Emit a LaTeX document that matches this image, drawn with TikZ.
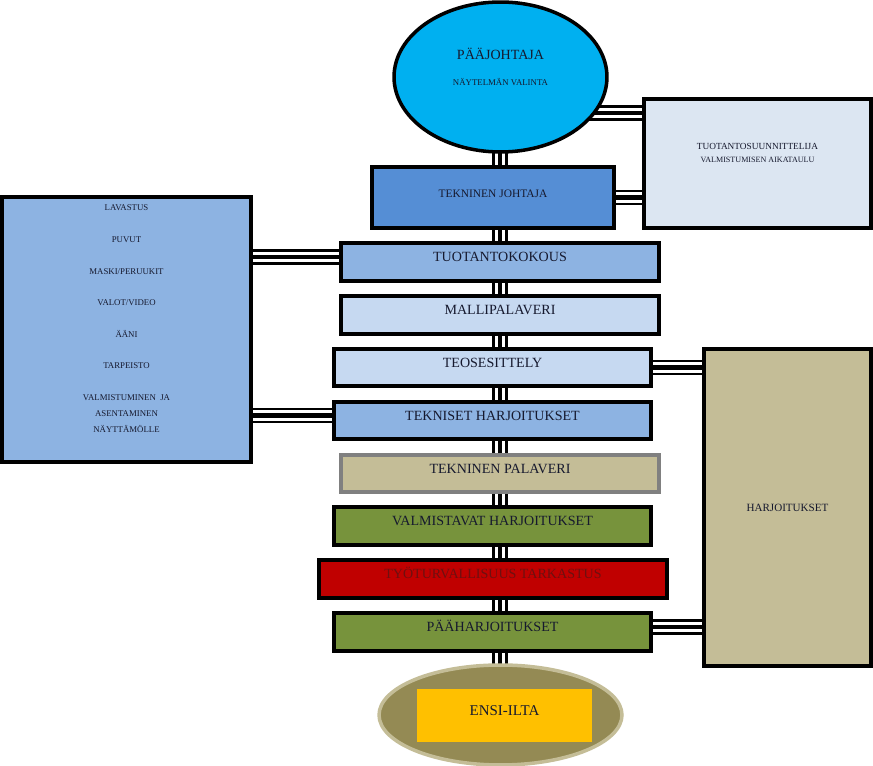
\documentclass[tikz,border=0pt]{standalone}
\usepackage{fontspec}
\setmainfont{Liberation Serif}
\usetikzlibrary{shapes.geometric,backgrounds,calc}
\definecolor{pjsini}{HTML}{00B0F0}
\definecolor{tjsini}{HTML}{558ED5}
\definecolor{vaaleasini}{HTML}{DCE6F2}
\definecolor{keskisini}{HTML}{8DB3E2}
\definecolor{haalea}{HTML}{C6D9F1}
\definecolor{hiekka}{HTML}{C4BD97}
\definecolor{oliivi}{HTML}{77933C}
\definecolor{puna}{HTML}{C00000}
\definecolor{punateksti}{HTML}{6E1010}
\definecolor{ruskea}{HTML}{948A54}
\definecolor{kulta}{HTML}{FFC000}
\definecolor{tumma}{HTML}{16192E}
\newcommand{\isot}{\fontsize{8}{9.6}\selectfont}
\newcommand{\pienet}{\fontsize{5}{9}\selectfont}

\begin{document}
\begin{tikzpicture}[x=0.02cm,y=-0.02cm]
  \tikzset{laatikko/.style={rectangle,draw=black,line width=2pt,inner sep=0pt,
             minimum width=6.36cm,minimum height=0.76cm,font=\isot,text=tumma,
             text height=5.5pt,text depth=5.5pt},
           kolmois/.style={draw=black,line width=9pt,
             postaction={draw=white,line width=6pt},
             postaction={draw=black,line width=2.8pt}}}
  \useasboundingbox (0,0) rectangle (873,766);
  \coordinate (akseli) at (500,0);

  \node[ellipse,draw=black,line width=2pt,fill=pjsini,inner sep=0pt,text=tumma,
        minimum width=4.26cm,minimum height=3cm,align=center,font=\isot]
        (pj) at (500.5,77) {PÄÄJOHTAJA\\[5pt]{\pienet NÄYTELMÄN VALINTA}\\[2pt]\mbox{}};
  \node[laatikko,fill=vaaleasini,minimum width=4.54cm,minimum height=2.58cm,
        align=center,text height=,text depth=,font=\fontsize{5.3}{7}\selectfont]
        (ts) at (757.5,163.5) {TUOTANTOSUUNNITTELIJA\\{\fontsize{4.6}{7}\selectfont VALMISTUMISEN AIKATAULU}\\[5pt]\mbox{}};
  \node[laatikko,fill=tjsini,minimum width=4.84cm,minimum height=1.22cm,
        font=\fontsize{6.5}{8}\selectfont,text height=4.5pt,text depth=4.5pt]
        (tj) at (493,197.5) {TEKNINEN JOHTAJA};
  \node[laatikko,fill=keskisini,minimum width=4.98cm,minimum height=5.3cm,
        align=center,text height=,text depth=,font=\pienet]
        (lav) at (126.5,329.5) {LAVASTUS\\[9pt]PUVUT\\[9pt]MASKI/PERUUKIT\\[9pt]VALOT/VIDEO\\[9pt]ÄÄNI\\[9pt]TARPEISTO\\[9pt]VALMISTUMINEN\ \ JA\\ASENTAMINEN\\NÄYTTÄMÖLLE\\[3.4pt]\mbox{}};

  % paalinja
  \node[laatikko,fill=keskisini] (tk) at (500,262) {TUOTANTOKOKOUS};
  \node[laatikko,fill=haalea] (mp) at (500,315) {MALLIPALAVERI};
  \node[laatikko,fill=haalea,minimum width=6.34cm,minimum height=0.74cm] (te) at (492.5,367.5) {TEOSESITTELY};
  \node[laatikko,fill=keskisini,minimum width=6.34cm,minimum height=0.74cm] (th) at (492.5,420.5) {TEKNISET HARJOITUKSET};
  \node[laatikko,fill=hiekka,draw=gray,minimum height=0.74cm] (tp) at (500,473.5) {TEKNINEN PALAVERI};
  \node[laatikko,fill=oliivi,minimum width=6.34cm] (vh) at (492.5,526) {VALMISTAVAT HARJOITUKSET};
  \node[laatikko,fill=puna,text=punateksti,minimum width=6.96cm] (tt) at (493,579) {TYÖTURVALLISUUS TARKASTUS};
  \node[laatikko,fill=oliivi,minimum width=6.34cm] (ph) at (492.5,632) {PÄÄHARJOITUKSET};

  \node[laatikko,fill=hiekka,minimum width=3.34cm,minimum height=6.34cm,
        text height=,text depth=,font=\fontsize{6.3}{8}\selectfont]
        (harj) at (787.5,507.5) {HARJOITUKSET};

  \node[ellipse,draw=hiekka,line width=2pt,fill=ruskea,inner sep=0pt,
        minimum width=4.86cm,minimum height=2cm] (ensi) at (500.5,715) {};
  \node[rectangle,fill=kulta,inner sep=0pt,minimum width=3.5cm,minimum height=1.06cm,
        font=\fontsize{8.5}{10}\selectfont,text=tumma,text height=6pt,text depth=6pt]
        (ilta) at (504.5,715.5) {ENSI-ILTA};

  \begin{scope}[on background layer]
    \foreach \a/\b in {pj/tj,tj/tk,tk/mp,mp/te,te/th,th/tp,tp/vh,vh/tt,tt/ph,ph/ensi}
      \draw[kolmois] (akseli |- \a.center) -- (akseli |- \b.center);
    \draw[kolmois] ([yshift=-0.72cm]pj.center) -- ([yshift=-0.72cm]pj.center -| ts.center);
    \draw[kolmois] (tj.center) -- (tj.center -| ts.center);
    \draw[kolmois] ([yshift=0.1cm]tk.center) -- ([yshift=0.1cm]tk.center -| lav.center);
    \draw[kolmois] ([yshift=0.1cm]th.center) -- ([yshift=0.1cm]th.center -| lav.center);
    \draw[kolmois] (te.center) -- (te.center -| harj.center);
    \draw[kolmois] ([yshift=0.1cm]ph.center) -- ([yshift=0.1cm]ph.center -| harj.center);
  \end{scope}
\end{tikzpicture}
\end{document}
